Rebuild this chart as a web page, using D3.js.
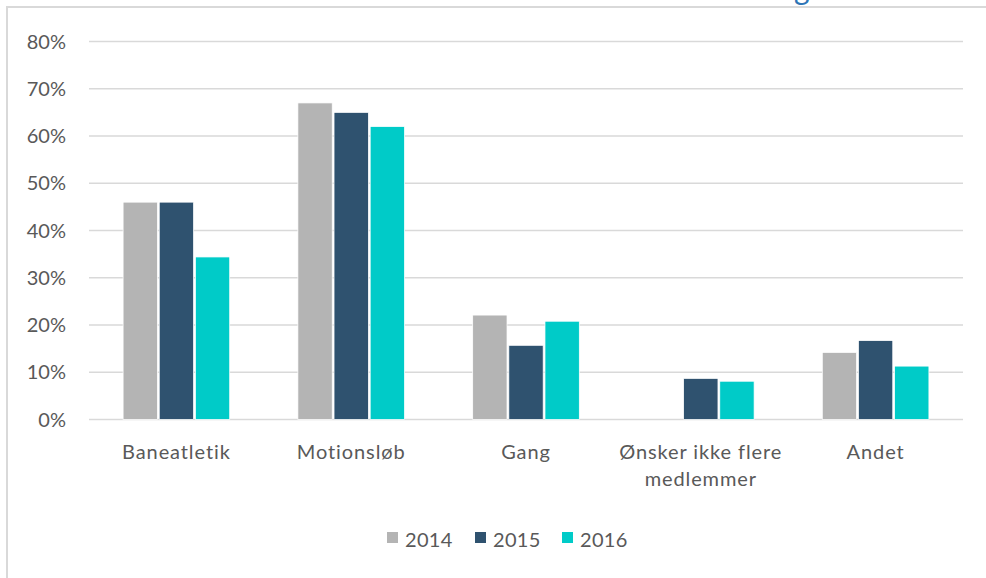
<!DOCTYPE html>
<meta charset="utf-8">
<style>
body { margin: 0; background: #fff; }
text { font-family: Lato, "Open Sans", sans-serif; fill: #595959; }
</style>
<svg width="986" height="578"></svg>
<script src="https://d3js.org/d3.v7.min.js"></script>
<script>
var categories = ["Baneatletik", "Motionsløb", "Gang", "Ønsker ikke flere\nmedlemmer", "Andet"];
var years = ["2014", "2015", "2016"];
var v2014 = [0.46, 0.67, 0.221, null, 0.142];
var v2015 = [0.46, 0.65, 0.157, 0.087, 0.167];
var v2016 = [0.344, 0.62, 0.208, 0.081, 0.113];
var yTicks = [0, 0.1, 0.2, 0.3, 0.4, 0.5, 0.6, 0.7, 0.8];
var colors = ["#b4b4b4", "#2f526f", "#00cbc8"];

var series = [v2014, v2015, v2016];

var svg = d3.select("svg");

// frame of the chart area
svg.append("rect")
    .attr("x", 7).attr("y", 7)
    .attr("width", 990).attr("height", 600)
    .attr("fill", "none")
    .attr("stroke", "#d9d9d9")
    .attr("stroke-width", 2);

// the cut-off title above the frame
svg.append("text")
    .attr("x", 794).attr("y", 0)
    .attr("font-size", 30)
    .style("fill", "#2e75b6")
    .text("g");

var x = d3.scaleBand()
    .domain(categories)
    .range([89, 963])
    .paddingInner(0.39)
    .paddingOuter(0.195);

var y = d3.scaleLinear()
    .domain([0, 0.8])
    .range([419.5, 41.5]);

var xs = d3.scaleBand()
    .domain(years)
    .range([0, x.bandwidth()])
    .paddingInner(0.05);

// gridlines
svg.append("g")
  .selectAll("line")
  .data(yTicks)
  .enter().append("line")
    .attr("x1", 89).attr("x2", 963)
    .attr("y1", function(d) { return y(d); })
    .attr("y2", function(d) { return y(d); })
    .attr("stroke", "#d9d9d9")
    .attr("stroke-width", 1.5);

// y labels
svg.append("g")
  .selectAll("text")
  .data(yTicks)
  .enter().append("text")
    .attr("x", 66)
    .attr("y", function(d) { return y(d); })
    .attr("dy", "0.35em")
    .attr("text-anchor", "end")
    .attr("font-size", 20)
    .text(d3.format(".0%"));

// bars
var groups = svg.append("g")
  .selectAll("g")
  .data(categories)
  .enter().append("g")
    .attr("transform", function(d) { return "translate(" + x(d) + ",0)"; });

groups.selectAll("rect")
  .data(function(d, i) {
    return years.map(function(yr, j) { return { year: yr, j: j, value: series[j][i] }; })
      .filter(function(e) { return e.value != null; });
  })
  .enter().append("rect")
    .attr("x", function(d) { return xs(d.year); })
    .attr("width", xs.bandwidth())
    .attr("y", function(d) { return y(d.value); })
    .attr("height", function(d) { return y(0) - y(d.value); })
    .attr("fill", function(d) { return colors[d.j]; })
    .attr("stroke", "#fff")
    .attr("stroke-width", 0.75);

// category labels
svg.append("g")
  .selectAll("text")
  .data(categories)
  .enter().append("text")
    .attr("text-anchor", "middle")
    .attr("font-size", 20)
    .attr("letter-spacing", 0.9)
    .attr("x", function(d) { return x(d) + x.bandwidth() / 2; })
    .attr("y", 459)
  .selectAll("tspan")
  .data(function(d) { return d.split("\n"); })
  .enter().append("tspan")
    .attr("x", function() { var p = this.parentNode.__data__; return x(p) + x.bandwidth() / 2; })
    .attr("dy", function(d, i) { return i ? 26.5 : 0; })
    .text(function(d) { return d; });

// legend
var legendX = [387, 475, 562];
var legend = svg.append("g")
  .selectAll("g")
  .data(years)
  .enter().append("g")
    .attr("transform", function(d, i) { return "translate(" + legendX[i] + ",532)"; });

legend.append("rect")
    .attr("width", 11).attr("height", 11)
    .attr("fill", function(d, i) { return colors[i]; });

legend.append("text")
    .attr("x", 18).attr("y", 15)
    .attr("font-size", 20)
    .attr("letter-spacing", 0.3)
    .text(function(d) { return d; });
</script>
